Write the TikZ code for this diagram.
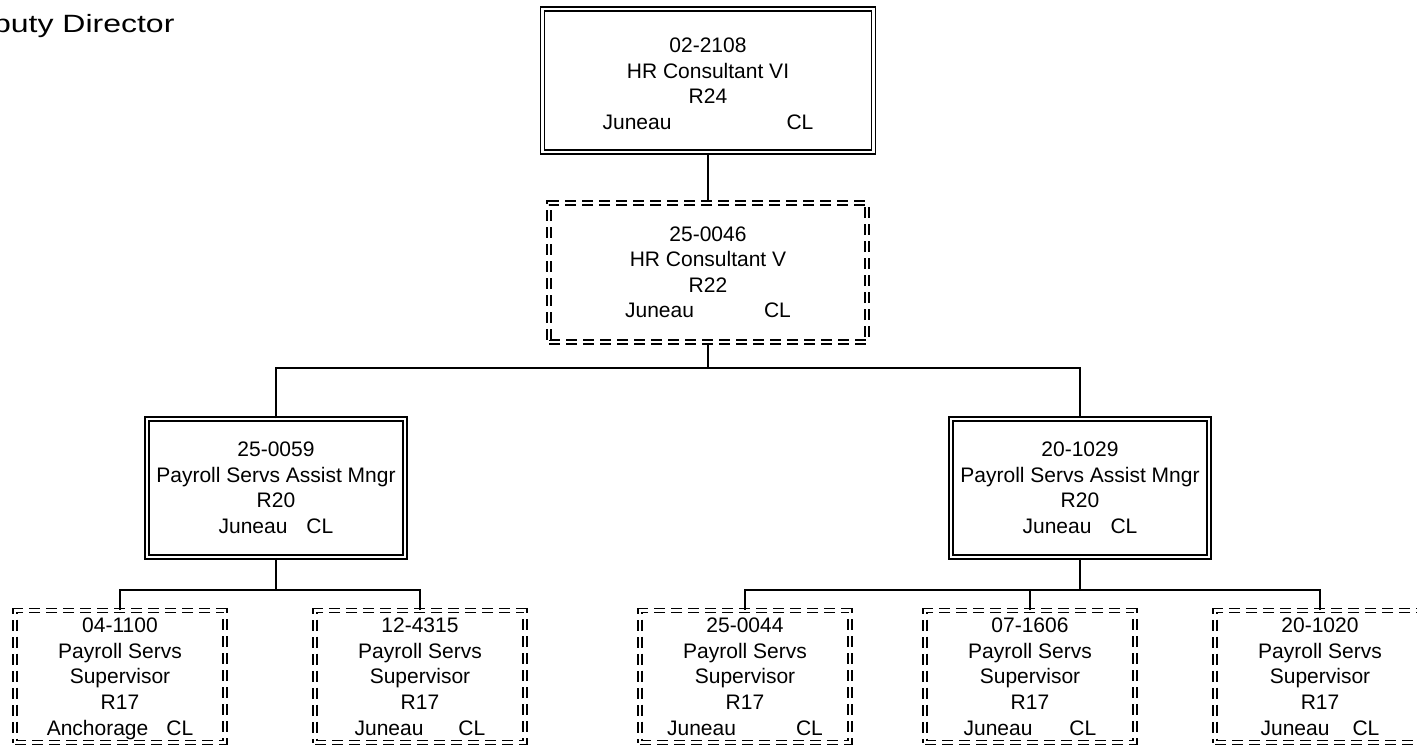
\documentclass[tikz,border=0pt]{standalone}
\usepackage{fontspec}
\setmainfont{Liberation Sans}
\usetikzlibrary{positioning}

\begin{document}
\begin{tikzpicture}[x=1pt,y=-1pt,
  filledpos/.style={draw,double,double distance=2.6pt,line width=1.5pt,align=center,
    font=\fontsize{21}{25.5}\selectfont,inner sep=0pt},
  vacantpos/.style={filledpos,dash pattern=on 11pt off 6pt},
  toppos/.style={minimum width=331pt,minimum height=143pt},
  midpos/.style={minimum width=258pt,minimum height=138pt},
  lowpos/.style={minimum width=210pt,minimum height=132pt,
    font=\fontsize{21}{25.8}\selectfont},
  link/.style={line width=1.4pt}
]
\path[use as bounding box] (0,0) rectangle (1417,750);
\clip (0,0) rectangle (1417,750);

\node[anchor=base east,font=\fontsize{25}{30}\selectfont] (title) at (178,32)
  {\scalebox{1.28}[1]{Deputy Director}};

\node[filledpos,toppos] (P1) at (708,80.5) {\rule{0pt}{21pt}02-2108\\HR Consultant VI\\R24\\Juneau\hspace{115pt}CL};
\node[vacantpos,toppos,minimum width=318pt,minimum height=139pt] (P2) at (708,272.5) {25-0046\\HR Consultant V\\R22\\Juneau\hspace{70pt}CL};

\node[filledpos,midpos] (A1) at (276,488) {25-0059\\Payroll Servs Assist Mngr\\R20\\Juneau\hspace{19pt}CL};
\node[filledpos,midpos] (A2) at (1080,488) {20-1029\\Payroll Servs Assist Mngr\\R20\\Juneau\hspace{19pt}CL};

% vacant supervisor boxes
\node[vacantpos,lowpos] (S1) at (120,676.5) {04-1100\\Payroll Servs\\Supervisor\\R17\\\smash{Anchorage\hspace{18pt}CL}};
\node[vacantpos,lowpos] (S2) at (420,676.5) {12-4315\\Payroll Servs\\Supervisor\\R17\\\smash{Juneau\hspace{35pt}CL}};
\node[vacantpos,lowpos] (S3) at (745,676.5) {25-0044\\Payroll Servs\\Supervisor\\R17\\\smash{Juneau\hspace{60pt}CL}};
\node[vacantpos,lowpos] (S4) at (1030,676.5) {07-1606\\Payroll Servs\\Supervisor\\R17\\\smash{Juneau\hspace{37pt}CL}};
\node[vacantpos,lowpos] (S5) at (1320,676.5) {20-1020\\Payroll Servs\\Supervisor\\R17\\\smash{Juneau\hspace{23pt}CL}};

\coordinate (busA) at (708,368);
\coordinate (busL) at (276,590);
\coordinate (busR) at (1080,590);

\draw[link] (P1) -- (P2);
\draw[link] (P2) -- (busA);
\draw[link] (A1) |- (busA) -| (A2);

\draw[link] (A1) -- (busL);
\draw[link] (S1) |- (busL) -| (S2);

\draw[link] (A2) -- (busR);
\draw[link] (S3) |- (busR) -| (S5);
\draw[link] (S4) -- (S4 |- busR);

\end{tikzpicture}
\end{document}
